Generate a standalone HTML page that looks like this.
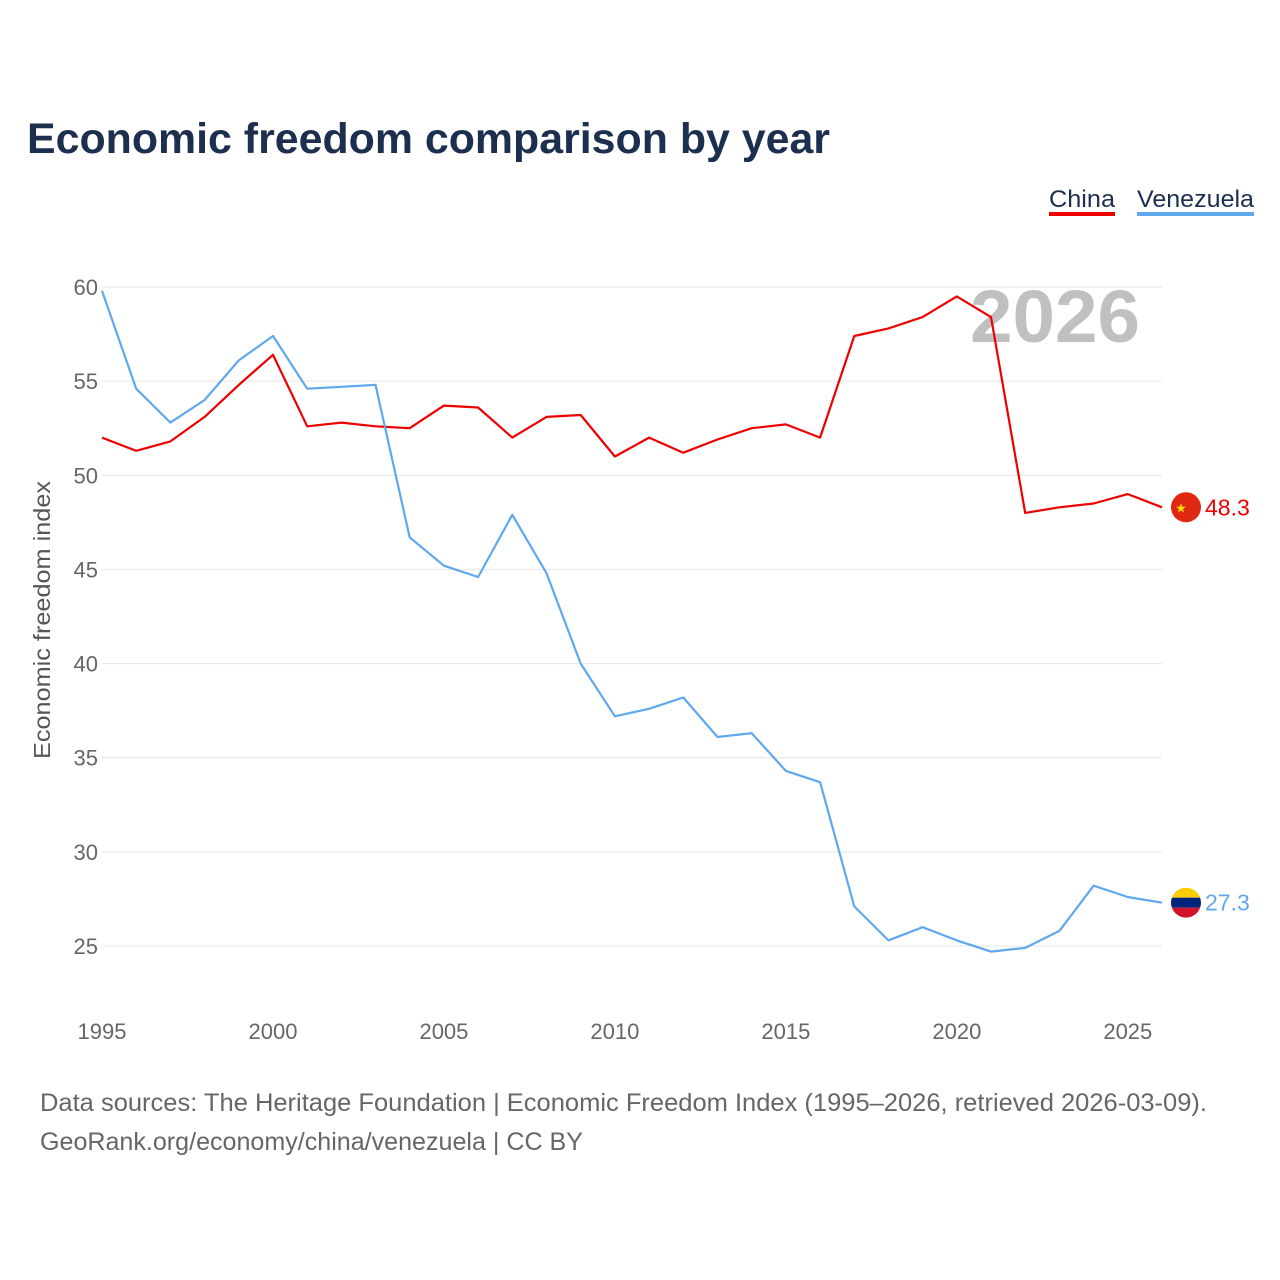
<!DOCTYPE html>
<html><head><meta charset="utf-8">
<style>
html,body{margin:0;padding:0;background:#fff;width:1280px;height:1280px;overflow:hidden;font-family:"Liberation Sans",sans-serif;}
</style></head>
<body>
<svg id="chart" width="1280" height="1280" xmlns="http://www.w3.org/2000/svg" font-family="Liberation Sans, sans-serif">
<text x="27" y="153" font-size="43" font-weight="bold" fill="#1c2f4f" textLength="803" lengthAdjust="spacingAndGlyphs">Economic freedom comparison by year</text>
<g>
<text x="1049" y="207" font-size="24" fill="#1c2f4f" textLength="66" lengthAdjust="spacingAndGlyphs">China</text>
<rect x="1049" y="212" width="66" height="4" fill="#ee0000"/>
<text x="1137" y="207" font-size="24" fill="#1c2f4f" textLength="117" lengthAdjust="spacingAndGlyphs">Venezuela</text>
<rect x="1137" y="212" width="117" height="4" fill="#5fa8ee"/>
</g>
<text x="1140" y="342" text-anchor="end" font-size="74" font-weight="bold" fill="#c0c0c0" textLength="170" lengthAdjust="spacingAndGlyphs">2026</text>
<g id="grid"></g>
<g id="axes"></g>
<g id="lines"></g>
<text transform="translate(50,620) rotate(-90)" text-anchor="middle" font-size="23" fill="#555" textLength="278" lengthAdjust="spacingAndGlyphs">Economic freedom index</text>
<text x="40" y="1111" font-size="25" fill="#666" textLength="1167" lengthAdjust="spacingAndGlyphs">Data sources: The Heritage Foundation | Economic Freedom Index (1995–2026, retrieved 2026-03-09).</text>
<text x="40" y="1150" font-size="25" fill="#666" textLength="543" lengthAdjust="spacingAndGlyphs">GeoRank.org/economy/china/venezuela | CC BY</text>
</svg>
<script>
const years=[1995,1996,1997,1998,1999,2000,2001,2002,2003,2004,2005,2006,2007,2008,2009,2010,2011,2012,2013,2014,2015,2016,2017,2018,2019,2020,2021,2022,2023,2024,2025,2026];
const china=[52.0,51.3,51.8,53.1,54.8,56.4,52.6,52.8,52.6,52.5,53.7,53.6,52.0,53.1,53.2,51.0,52.0,51.2,51.9,52.5,52.7,52.0,57.4,57.8,58.4,59.5,58.4,48.0,48.3,48.5,49.0,48.3];
const venezuela=[59.8,54.6,52.8,54.0,56.1,57.4,54.6,54.7,54.8,46.7,45.2,44.6,47.9,44.8,40.0,37.2,37.6,38.2,36.1,36.3,34.3,33.7,27.1,25.3,26.0,25.3,24.7,24.9,25.8,28.2,27.6,27.3];
const yTicks=[25,30,35,40,45,50,55,60];
const xTicks=[1995,2000,2005,2010,2015,2020,2025];
const NS="http://www.w3.org/2000/svg";
function x(v){return 102+(v-1995)*(1162-102)/31;}
function y(v){return 946-(v-25)*(946-287)/35;}
function mk(tag,attrs,parent){const e=document.createElementNS(NS,tag);for(const k in attrs)e.setAttribute(k,attrs[k]);parent.appendChild(e);return e;}
const grid=document.getElementById('grid'),axes=document.getElementById('axes'),lines=document.getElementById('lines');
yTicks.forEach(t=>{
 const l=mk('line',{x1:102,x2:1162,y1:y(t),y2:y(t),stroke:'#e6e6e6','stroke-width':1},grid);
 
 
 const tx=mk('text',{x:98,y:y(t)+8,'text-anchor':'end','font-size':22,fill:'#666'},axes);
 tx.textContent=t;
 
 
});
xTicks.forEach(t=>{
 const tx=mk('text',{x:x(t),y:1039,'text-anchor':'middle','font-size':22,fill:'#666'},axes);
 tx.textContent=t;
 
 
});
function series(vals,color,name,label,flag){
 const d=vals.map((v,i)=>(i?'L':'M')+x(years[i]).toFixed(1)+','+y(v).toFixed(1)).join('');
 const p=mk('path',{d:d,fill:'none',stroke:color,'stroke-width':2.2,'stroke-linejoin':'round'},lines);
 
 
 const last=vals[vals.length-1],cy=y(last),cx=1186;
 const g=mk('g',{},lines);
 
 
 if(flag==='cn'){
  mk('circle',{cx:cx,cy:cy,r:15,fill:'#de2910'},g);
  const s=mk('text',{x:cx-5,y:cy+5,'text-anchor':'middle','font-size':13,fill:'#ffde00'},g);s.textContent='★';
 }else{
  mk('clipPath',{id:'vc'},g).appendChild(document.createElementNS(NS,'circle'));
  const c=g.querySelector('clipPath circle');c.setAttribute('cx',cx);c.setAttribute('cy',cy);c.setAttribute('r',15);
  mk('rect',{x:cx-15,y:cy-15,width:30,height:10,fill:'#ffcc00','clip-path':'url(#vc)'},g);
  mk('rect',{x:cx-15,y:cy-5,width:30,height:10,fill:'#00247d','clip-path':'url(#vc)'},g);
  mk('rect',{x:cx-15,y:cy+5,width:30,height:10,fill:'#cf142b','clip-path':'url(#vc)'},g);
 }
 const t=mk('text',{x:1205,y:cy+8,'font-size':23,fill:color},lines);
 t.textContent=last.toFixed(1);
 
 
}
series(china,'#ee0000','china','China','cn');
series(venezuela,'#5fa8ee','venezuela','Venezuela','ve');
</script>
</body></html>
